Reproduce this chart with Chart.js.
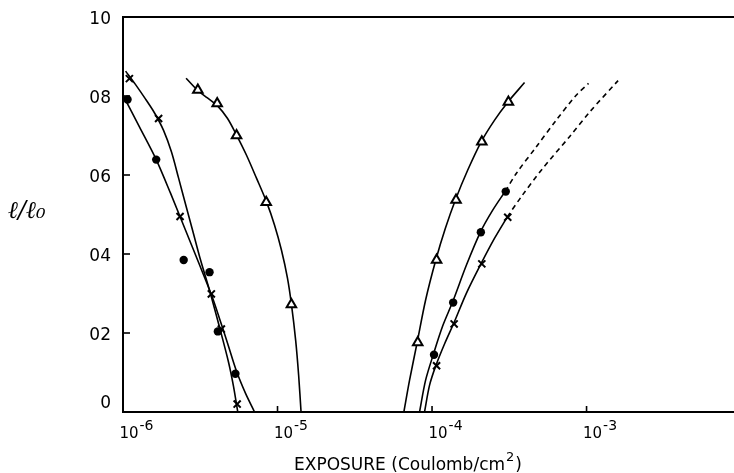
<!DOCTYPE html>
<html>
<head>
<meta charset="utf-8">
<script src="https://cdn.jsdelivr.net/npm/chart.js@4.4.1/dist/chart.umd.min.js"></script>
<style>
html,body{margin:0;padding:0;background:#fff;}
#wrap{width:734px;height:473px;}
</style>
</head>
<body>
<div id="wrap"><canvas id="c" width="734" height="473"></canvas></div>
<script>
// ---- axis ticks / labels ----
const xTickValues = [1e-6, 1e-5, 1e-4, 1e-3];
const xTickExponents = ['-6', '-5', '-4', '-3'];
const yTickValues = [1.0, 0.8, 0.6, 0.4, 0.2, 0];
const yTickLabels = ['10', '08', '06', '04', '02', '0'];
const xTitle = 'EXPOSURE (Coulomb/cm';
const xTitleSup = '2';
const yTitle = 'ℓ/ℓ₀';

// ---- measured points ----
const crossLowX = [1.10e-6, 1.70e-6, 2.34e-6, 3.73e-6, 4.33e-6, 5.48e-6];
const crossLowY = [0.844, 0.743, 0.495, 0.299, 0.210, 0.020];
const dotLowX = [1.07e-6, 1.64e-6, 2.47e-6, 3.63e-6, 4.11e-6, 5.34e-6];
const dotLowY = [0.791, 0.639, 0.385, 0.354, 0.204, 0.097];
const triLowX = [3.05e-6, 4.07e-6, 5.43e-6, 8.45e-6, 1.23e-5];
const triLowY = [0.815, 0.781, 0.700, 0.531, 0.272];
const triHighX = [8.08e-5, 1.07e-4, 1.43e-4, 2.10e-4, 3.12e-4];
const triHighY = [0.176, 0.385, 0.537, 0.684, 0.785];
const dotHighX = [1.03e-4, 1.37e-4, 2.07e-4, 3.00e-4];
const dotHighY = [0.145, 0.277, 0.455, 0.558];
const crossHighX = [1.07e-4, 1.39e-4, 2.10e-4, 3.09e-4];
const crossHighY = [0.117, 0.223, 0.375, 0.493];

// ---- fitted curves ----
const crossLowCurveX = [1.04e-6, 1.20e-6, 1.40e-6, 1.60e-6, 1.83e-6, 2.06e-6, 2.29e-6, 2.54e-6, 2.82e-6, 3.18e-6, 3.63e-6, 4.21e-6, 4.82e-6, 5.19e-6, 5.53e-6];
const crossLowCurveY = [0.863, 0.830, 0.792, 0.757, 0.713, 0.658, 0.592, 0.526, 0.460, 0.384, 0.308, 0.215, 0.126, 0.065, 0];
const dotLowCurveX = [1.00e-6, 1.28e-6, 1.64e-6, 2.03e-6, 2.54e-6, 3.08e-6, 3.74e-6, 4.21e-6, 4.75e-6, 5.43e-6, 6.21e-6, 7.10e-6];
const dotLowCurveY = [0.802, 0.721, 0.639, 0.554, 0.460, 0.379, 0.296, 0.237, 0.174, 0.103, 0.047, 0];
const triLowCurveX = [2.56e-6, 3.03e-6, 3.52e-6, 4.09e-6, 4.75e-6, 5.43e-6, 6.30e-6, 7.31e-6, 8.49e-6, 9.57e-6, 1.06e-5, 1.16e-5, 1.23e-5, 1.31e-5, 1.37e-5, 1.42e-5];
const triLowCurveY = [0.845, 0.815, 0.795, 0.775, 0.743, 0.701, 0.650, 0.592, 0.532, 0.473, 0.410, 0.339, 0.273, 0.182, 0.093, 0];
const triHighCurveX = [6.57e-5, 7.15e-5, 8.02e-5, 9.08e-5, 1.06e-4, 1.22e-4, 1.42e-4, 1.70e-4, 2.08e-4, 2.54e-4, 3.10e-4, 3.97e-4];
const triHighCurveY = [0, 0.080, 0.177, 0.283, 0.386, 0.465, 0.538, 0.612, 0.684, 0.739, 0.785, 0.834];
const dotHighCurveX = [8.30e-5, 9.08e-5, 1.02e-4, 1.17e-4, 1.36e-4, 1.67e-4, 2.06e-4, 2.47e-4, 2.98e-4];
const dotHighCurveY = [0, 0.080, 0.146, 0.217, 0.279, 0.372, 0.456, 0.511, 0.559];
const dotHighDashX = [2.98e-4, 3.51e-4, 4.72e-4, 6.37e-4, 8.57e-4, 1.03e-3];
const dotHighDashY = [0.559, 0.604, 0.671, 0.739, 0.802, 0.832];
const crossHighCurveX = [8.94e-5, 9.64e-5, 1.06e-4, 1.21e-4, 1.38e-4, 1.67e-4, 2.08e-4, 2.54e-4, 3.07e-4];
const crossHighCurveY = [0, 0.068, 0.118, 0.174, 0.224, 0.301, 0.376, 0.440, 0.494];
const crossHighDashX = [3.07e-4, 3.78e-4, 5.21e-4, 7.76e-4, 1.05e-3, 1.60e-3];
const crossHighDashY = [0.494, 0.545, 0.617, 0.697, 0.760, 0.839];

const xMin = 1e-6, xMax = 9e-3;

function pts(xs, ys) { return xs.map((v, i) => ({x: v, y: ys[i]})); }

function curve(xs, ys, dashed) {
  return {
    type: 'line', data: pts(xs, ys), borderColor: '#000', borderWidth: 1.6,
    borderDash: dashed ? [5, 4] : [], pointRadius: 0, fill: false,
    tension: 0.3, order: 2
  };
}
function markers(xs, ys, style) {
  const base = {type: 'scatter', data: pts(xs, ys), showLine: false, order: 1, borderColor: '#000'};
  if (style === 'tri') return Object.assign(base, {pointStyle: 'triangle', pointRadius: 5.5, pointBorderWidth: 2, pointBackgroundColor: '#fff'});
  if (style === 'dot') return Object.assign(base, {pointStyle: 'circle', pointRadius: 4.2, pointBorderWidth: 0, pointBackgroundColor: '#000'});
  return Object.assign(base, {pointStyle: 'crossRot', pointRadius: 5, pointBorderWidth: 2, pointBackgroundColor: '#000'});
}

const axisPlugin = {
  id: 'paperAxes',
  afterDraw(chart) {
    const {ctx, chartArea: a, scales: {x, y}} = chart;
    ctx.save();
    ctx.strokeStyle = '#000';
    ctx.fillStyle = '#000';
    ctx.lineWidth = 2;
    ctx.beginPath();
    ctx.moveTo(a.right, a.top); ctx.lineTo(a.left, a.top);
    ctx.lineTo(a.left, a.bottom); ctx.lineTo(a.right, a.bottom);
    ctx.stroke();
    // y ticks and labels
    ctx.lineWidth = 1.6;
    ctx.font = '17px "DejaVu Sans"';
    ctx.textAlign = 'right';
    ctx.textBaseline = 'middle';
    yTickValues.forEach((v, i) => {
      const py = y.getPixelForValue(v);
      if (v > 0 && v < 1) {
        ctx.beginPath(); ctx.moveTo(a.left, py); ctx.lineTo(a.left + 7, py); ctx.stroke();
      }
      const off = v === 0 ? -8 : 3;
      ctx.fillText(yTickLabels[i], 111, py + off);
    });
    // x ticks and labels
    xTickValues.forEach((v, i) => {
      const px = x.getPixelForValue(v);
      if (i > 0) {
        ctx.beginPath(); ctx.moveTo(px, a.bottom); ctx.lineTo(px, a.bottom - 6); ctx.stroke();
      }
      ctx.font = '15px "DejaVu Sans"';
      ctx.textAlign = 'center';
      ctx.textBaseline = 'alphabetic';
      const cx = px + 6;
      ctx.fillText('10', cx, 438);
      const w = ctx.measureText('10').width;
      ctx.font = '14px "DejaVu Sans"';
      ctx.textAlign = 'left';
      ctx.fillText(xTickExponents[i], cx + w / 2 + 1, 430);
    });
    // x title
    ctx.font = '17px "DejaVu Sans"';
    ctx.textAlign = 'left';
    const tw = ctx.measureText(xTitle).width;
    ctx.font = '13px "DejaVu Sans"';
    const sw = ctx.measureText(xTitleSup).width;
    ctx.font = '17px "DejaVu Sans"';
    const pw = ctx.measureText(')').width;
    const total = tw + sw + pw + 2;
    let tx = 408 - total / 2;
    ctx.fillText(xTitle, tx, 470);
    ctx.font = '13px "DejaVu Sans"';
    ctx.fillText(xTitleSup, tx + tw + 1, 461);
    ctx.font = '17px "DejaVu Sans"';
    ctx.fillText(')', tx + tw + sw + 2, 470);
    // y title
    ctx.font = 'italic 24px "DejaVu Serif"';
    ctx.textAlign = 'left';
    ctx.textBaseline = 'middle';
    ctx.fillText(yTitle, 8, 212);
    ctx.restore();
  }
};

new Chart(document.getElementById('c'), {
  data: {
    datasets: [
      markers(crossLowX, crossLowY, 'cross'),
      markers(dotLowX, dotLowY, 'dot'),
      markers(triLowX, triLowY, 'tri'),
      markers(triHighX, triHighY, 'tri'),
      markers(dotHighX, dotHighY, 'dot'),
      markers(crossHighX, crossHighY, 'cross'),
      curve(crossLowCurveX, crossLowCurveY, false),
      curve(dotLowCurveX, dotLowCurveY, false),
      curve(triLowCurveX, triLowCurveY, false),
      curve(triHighCurveX, triHighCurveY, false),
      curve(dotHighCurveX, dotHighCurveY, false),
      curve(dotHighDashX, dotHighDashY, true),
      curve(crossHighCurveX, crossHighCurveY, false),
      curve(crossHighDashX, crossHighDashY, true)
    ]
  },
  options: {
    responsive: false,
    animation: false,
    devicePixelRatio: 1,
    layout: {autoPadding: false, padding: {left: 123, top: 17, right: 0, bottom: 61}},
    plugins: {legend: {display: false}, tooltip: {enabled: false}},
    scales: {
      x: {type: 'logarithmic', min: xMin, max: xMax, display: false},
      y: {type: 'linear', min: 0, max: 1, display: false}
    }
  },
  plugins: [axisPlugin]
});
</script>
</body>
</html>
